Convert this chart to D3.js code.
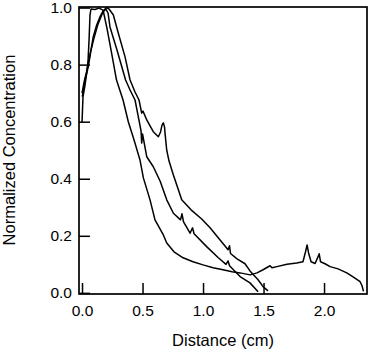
<!DOCTYPE html>
<html>
<head>
<meta charset="utf-8">
<script src="https://cdn.jsdelivr.net/npm/d3@7"></script>
<style>
  body { margin: 0; background: #fff; }
  text { font-family: "Liberation Sans", Arial, sans-serif; fill: #000; }
</style>
</head>
<body>
<svg id="chart"></svg>
<script>
// tick values
const xTicks = [0.0, 0.5, 1.0, 1.5, 2.0];
const yTicks = [0.0, 0.2, 0.4, 0.6, 0.8, 1.0];

// profile 1 : flat top, steepest fall, long tail with two peaks near 1.9 cm
const dist1 = [0.000, 0.008, 0.025, 0.039, 0.050, 0.058, 0.066, 0.074, 0.107, 0.140, 0.174, 0.204, 0.240, 0.285, 0.339, 0.383, 0.430, 0.479, 0.507, 0.562, 0.603, 0.672, 0.700, 0.760, 0.835, 0.917, 1.000, 1.083, 1.165, 1.240, 1.306, 1.390, 1.446, 1.496, 1.554, 1.570, 1.610, 1.694, 1.774, 1.826, 1.847, 1.860, 1.872, 1.893, 1.926, 1.950, 1.960, 1.971, 2.008, 2.050, 2.116, 2.188, 2.240, 2.298, 2.314, 2.326];
const conc1 = [0.599, 0.687, 0.729, 0.771, 0.816, 0.886, 0.974, 0.995, 0.993, 0.998, 0.991, 0.932, 0.851, 0.746, 0.676, 0.599, 0.536, 0.466, 0.403, 0.326, 0.256, 0.203, 0.175, 0.144, 0.123, 0.109, 0.098, 0.088, 0.081, 0.074, 0.070, 0.063, 0.070, 0.081, 0.095, 0.088, 0.092, 0.100, 0.105, 0.109, 0.144, 0.168, 0.140, 0.109, 0.103, 0.126, 0.137, 0.109, 0.102, 0.092, 0.084, 0.070, 0.056, 0.039, 0.025, 0.005];

// profile 2 : middle curve
const dist2 = [0.002, 0.025, 0.052, 0.074, 0.093, 0.121, 0.149, 0.174, 0.198, 0.215, 0.231, 0.289, 0.360, 0.397, 0.438, 0.467, 0.488, 0.493, 0.500, 0.535, 0.589, 0.645, 0.700, 0.755, 0.814, 0.826, 0.839, 0.893, 0.913, 0.926, 1.030, 1.124, 1.190, 1.207, 1.219, 1.306, 1.388, 1.455];
const conc2 = [0.688, 0.746, 0.793, 0.851, 0.898, 0.939, 0.968, 0.988, 0.994, 0.981, 0.932, 0.851, 0.746, 0.711, 0.676, 0.613, 0.567, 0.525, 0.557, 0.477, 0.442, 0.392, 0.326, 0.279, 0.256, 0.277, 0.249, 0.209, 0.228, 0.207, 0.162, 0.124, 0.100, 0.112, 0.095, 0.057, 0.035, 0.004];

// profile 3 : right curve with the shoulder near 0.67 cm
const dist3 = [0.000, 0.017, 0.041, 0.070, 0.099, 0.132, 0.165, 0.190, 0.204, 0.223, 0.259, 0.300, 0.355, 0.397, 0.438, 0.471, 0.493, 0.504, 0.535, 0.562, 0.589, 0.631, 0.649, 0.661, 0.672, 0.682, 0.686, 0.700, 0.719, 0.755, 0.824, 0.901, 0.989, 1.058, 1.124, 1.207, 1.219, 1.227, 1.281, 1.347, 1.388, 1.455, 1.496, 1.537];
const conc3 = [0.700, 0.739, 0.781, 0.844, 0.893, 0.942, 0.977, 0.995, 1.000, 0.995, 0.974, 0.910, 0.828, 0.746, 0.704, 0.676, 0.630, 0.637, 0.606, 0.585, 0.565, 0.547, 0.564, 0.588, 0.596, 0.581, 0.559, 0.500, 0.462, 0.413, 0.326, 0.291, 0.259, 0.228, 0.194, 0.151, 0.165, 0.138, 0.119, 0.102, 0.077, 0.046, 0.022, 0.007];

const profiles = [[dist1, conc1], [dist2, conc2], [dist3, conc3]];

const width = 370, height = 352;
const margin = { top: 7, right: 3, bottom: 58, left: 79 };

const svg = d3.select("#chart")
  .attr("width", width)
  .attr("height", height);

const x = d3.scaleLinear()
  .domain([-0.025, 2.355])
  .range([margin.left, width - margin.right]);

const y = d3.scaleLinear()
  .domain([-0.004, 1.002])
  .range([height - margin.bottom, margin.top]);

// curves
const line = d3.line()
  .x(d => x(d[0]))
  .y(d => y(d[1]));

profiles.forEach(function (p) {
  const pts = p[0].map((v, i) => [v, p[1][i]]);
  svg.append("path")
    .datum(pts)
    .attr("fill", "none")
    .attr("stroke", "#000")
    .attr("stroke-width", 1.5)
    .attr("stroke-linejoin", "round")
    .attr("d", line);
});

// frame
svg.append("rect")
  .attr("x", margin.left)
  .attr("y", margin.top)
  .attr("width", width - margin.left - margin.right)
  .attr("height", height - margin.top - margin.bottom)
  .attr("fill", "none")
  .attr("stroke", "#000")
  .attr("stroke-width", 1.7);

// axes, ticks point inward
const xAxis = svg.append("g")
  .attr("transform", `translate(0,${height - margin.bottom})`)
  .call(d3.axisBottom(x).tickValues(xTicks).tickFormat(d3.format(".1f"))
    .tickSizeInner(-11).tickSizeOuter(0).tickPadding(11));

const yAxis = svg.append("g")
  .attr("transform", `translate(${margin.left},0)`)
  .call(d3.axisLeft(y).tickValues(yTicks).tickFormat(d3.format(".1f"))
    .tickSizeInner(-11).tickSizeOuter(0).tickPadding(7));

[xAxis, yAxis].forEach(function (a) {
  a.select(".domain").remove();
  a.selectAll("line").attr("stroke", "#000").attr("stroke-width", 1.5);
  a.selectAll("text")
    .style("font-size", "15.5px")
    .style("font-family", "'Liberation Sans', Arial, sans-serif");
});

// axis titles
svg.append("text")
  .attr("x", 223)
  .attr("y", 346)
  .attr("text-anchor", "middle")
  .style("font-size", "16.5px")
  .text("Distance (cm)");

svg.append("text")
  .attr("transform", `translate(15,150) rotate(-90)`)
  .attr("text-anchor", "middle")
  .style("font-size", "16.5px")
  .text("Normalized Concentration");
</script>
</body>
</html>
